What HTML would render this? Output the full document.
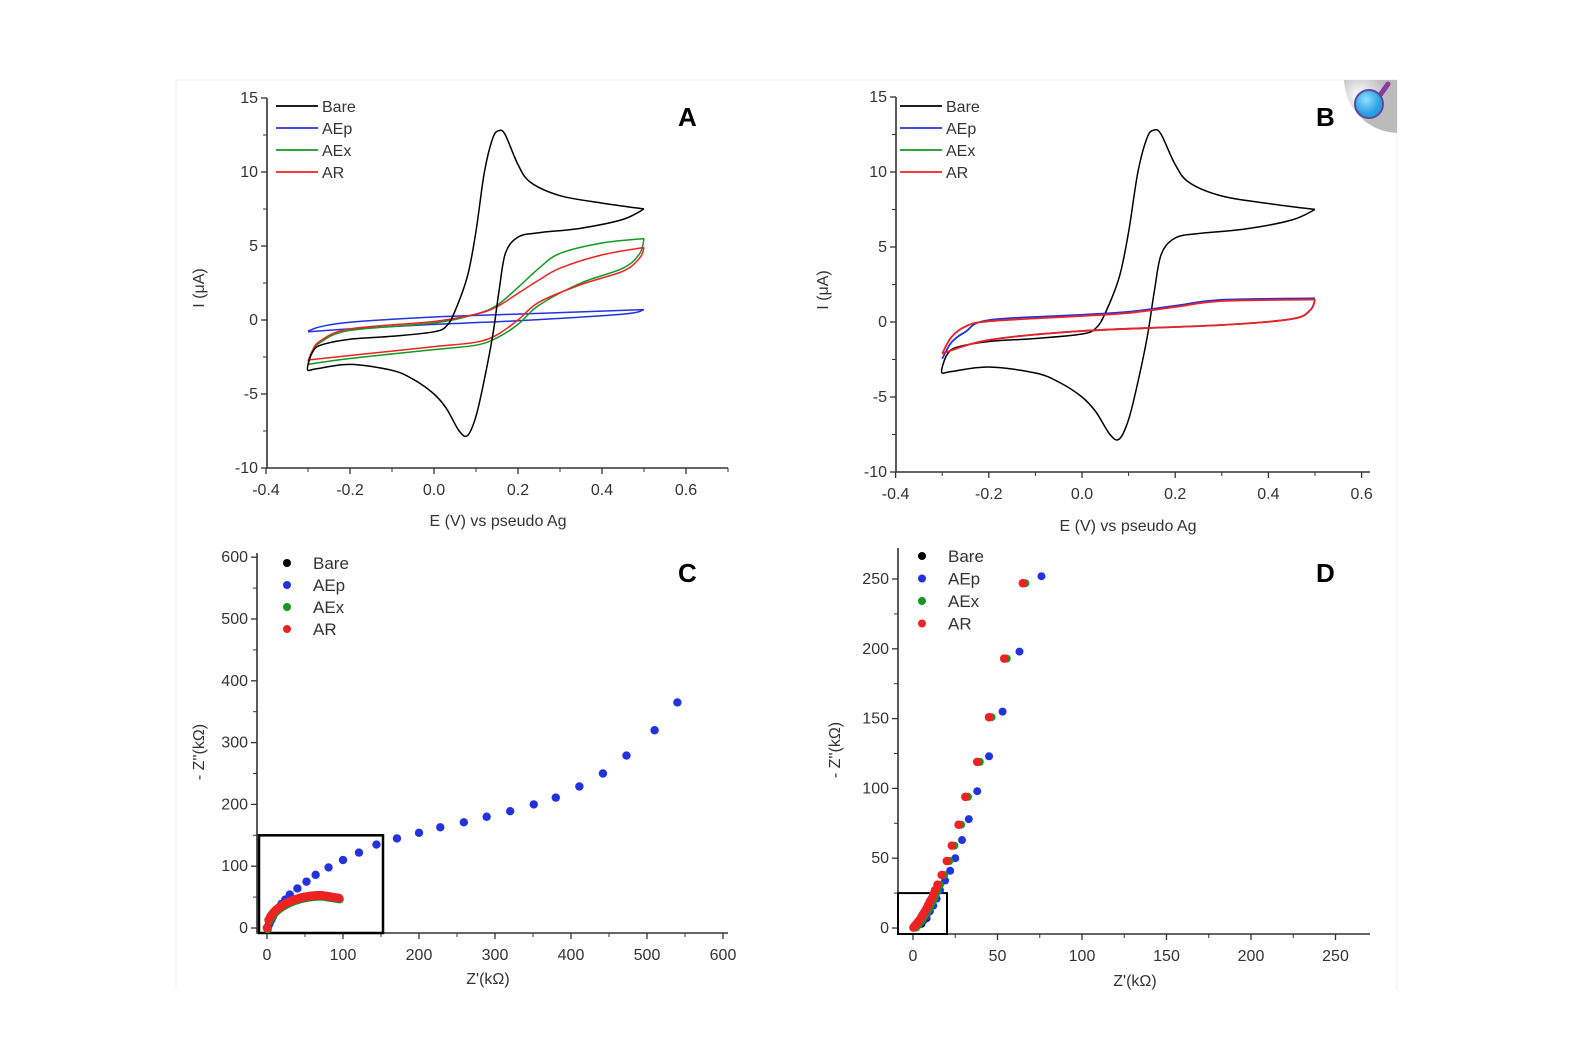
<!DOCTYPE html>
<html><head><meta charset="utf-8"><style>
html,body{margin:0;padding:0;background:#fff;}
svg text{font-family:"Liberation Sans",sans-serif;fill:#333;}
</style></head><body>
<svg id="s" width="1582" height="1055" viewBox="0 0 1582 1055" xmlns="http://www.w3.org/2000/svg">
<rect width="1582" height="1055" fill="#fff"/>
<path d="M176 990 V80 H1397 V990" fill="none" stroke="#eee" stroke-width="1"/>
</svg>
<script>
const S=document.getElementById('s');let H='';
function cr(pts){let d='M'+pts[0][0].toFixed(1)+' '+pts[0][1].toFixed(1);
for(let i=0;i<pts.length-1;i++){const p0=pts[Math.max(i-1,0)],p1=pts[i],p2=pts[i+1],p3=pts[Math.min(i+2,pts.length-1)];
const c1=[p1[0]+(p2[0]-p0[0])/6,p1[1]+(p2[1]-p0[1])/6],c2=[p2[0]-(p3[0]-p1[0])/6,p2[1]-(p3[1]-p1[1])/6];
d+=` C${c1[0].toFixed(1)} ${c1[1].toFixed(1)} ${c2[0].toFixed(1)} ${c2[1].toFixed(1)} ${p2[0].toFixed(1)} ${p2[1].toFixed(1)}`;}return d;}
function axes(o){
 H+=`<path d="M${o.ax} ${o.ytop} V${o.ay} H${o.xend}" fill="none" stroke="#333" stroke-width="1.6"/>`;
 o.xt.forEach(t=>{H+=`<line x1="${t[0]}" y1="${o.ay}" x2="${t[0]}" y2="${o.ay+6}" stroke="#333" stroke-width="1.3"/><text x="${t[0]}" y="${o.ay+27}" font-size="16" text-anchor="middle">${t[1]}</text>`;});
 (o.xm||[]).forEach(x=>{H+=`<line x1="${x}" y1="${o.ay}" x2="${x}" y2="${o.ay+4}" stroke="#333" stroke-width="1"/>`;});
 o.yt.forEach(t=>{H+=`<line x1="${o.ax-6}" y1="${t[0]}" x2="${o.ax}" y2="${t[0]}" stroke="#333" stroke-width="1.3"/><text x="${o.ax-9}" y="${t[0]+5}" font-size="16" text-anchor="end">${t[1]}</text>`;});
 (o.ym||[]).forEach(y=>{H+=`<line x1="${o.ax-4}" y1="${y}" x2="${o.ax}" y2="${y}" stroke="#333" stroke-width="1"/>`;});
}
const bareF=[[-0.3,-3.0],[-0.29,-2.2],[-0.27,-1.7],[-0.2,-1.3],[-0.1,-1.1],[0.0,-0.8],[0.03,-0.4],[0.05,0.6],[0.08,3],[0.1,6],[0.12,10],[0.14,12.3],[0.155,12.8],[0.17,12.5],[0.2,10.5],[0.23,9.3],[0.3,8.4],[0.4,7.9],[0.5,7.5]];
const bareR=[[0.5,7.5],[0.45,6.8],[0.35,6.2],[0.25,5.9],[0.2,5.6],[0.17,4.5],[0.155,2],[0.14,-1],[0.12,-4],[0.1,-6.5],[0.08,-7.8],[0.06,-7.5],[0.03,-6],[0.0,-5],[-0.05,-4],[-0.1,-3.4],[-0.2,-3.0],[-0.28,-3.3],[-0.3,-3.4],[-0.3,-3.0]];
function cv(ox,sx,oy,sy,pts,col,w){H+=`<path d="${cr(pts.map(p=>[ox+sx*p[0],oy-sy*p[1]]))}" fill="none" stroke="${col}" stroke-width="${w||1.5}" stroke-linejoin="round"/>`;}
function loop(ox,sx,oy,sy,f,r,col,w){cv(ox,sx,oy,sy,f,col,w);cv(ox,sx,oy,sy,r,col,w);}
function legL(x,y,col,lab,dy){col.forEach((c,i)=>{H+=`<line x1="${x}" y1="${y+i*dy}" x2="${x+42}" y2="${y+i*dy}" stroke="${c}" stroke-width="1.8"/><text x="${x+46}" y="${y+i*dy+6}" font-size="16">${lab[i]}</text>`;});}
function legP(x,y,col,lab,dy){col.forEach((c,i)=>{H+=`<circle cx="${x}" cy="${y+i*dy}" r="4" fill="${c}"/><text x="${x+26}" y="${y+i*dy+6}" font-size="17">${lab[i]}</text>`;});}
const COL=['#000','#2233dd','#119922','#ee2222'],LAB=['Bare','AEp','AEx','AR'];
// Panel A
{const ox=434,sx=420,oy=320,sy=14.8;
axes({ax:267,ay:468,xend:728,ytop:98,xt:[-0.4,-0.2,0.0,0.2,0.4,0.6].map(v=>[ox+sx*v,v.toFixed(1)]),xm:[-0.3,-0.1,0.1,0.3,0.5,0.7].map(v=>ox+sx*v),yt:[15,10,5,0,-5,-10].map(v=>[oy-sy*v,v]),ym:[12.5,7.5,2.5,-2.5,-7.5].map(v=>oy-sy*v)});
loop(ox,sx,oy,sy,[[-0.3,-0.75],[-0.27,-0.45],[-0.2,-0.15],[0,0.2],[0.2,0.4],[0.5,0.7]],[[0.5,0.7],[0.45,0.4],[0.2,-0.05],[0,-0.3],[-0.2,-0.6],[-0.3,-0.8]],COL[1]);
loop(ox,sx,oy,sy,[[-0.3,-3.0],[-0.29,-2.2],[-0.27,-1.5],[-0.2,-0.7],[0,-0.2],[0.1,0.4],[0.15,1.0],[0.2,2.2],[0.25,3.5],[0.3,4.5],[0.4,5.2],[0.5,5.5]],[[0.5,5.5],[0.49,4.5],[0.45,3.5],[0.35,2.5],[0.25,1.0],[0.2,-0.3],[0.15,-1.2],[0.1,-1.7],[0,-2.0],[-0.2,-2.6],[-0.3,-3.0]],COL[2]);
loop(ox,sx,oy,sy,[[-0.3,-2.8],[-0.29,-2.1],[-0.27,-1.4],[-0.2,-0.6],[0,-0.1],[0.1,0.4],[0.15,0.9],[0.2,1.8],[0.25,2.7],[0.3,3.5],[0.4,4.4],[0.5,4.9]],[[0.5,4.9],[0.49,4.2],[0.45,3.3],[0.35,2.4],[0.25,1.2],[0.2,0.0],[0.15,-1.0],[0.1,-1.5],[0,-1.8],[-0.2,-2.4],[-0.3,-2.7]],COL[3]);
loop(ox,sx,oy,sy,bareF,bareR,COL[0]);
legL(276,106,COL,LAB,22);
H+=`<text x="678" y="126" font-size="26" font-weight="bold" style="fill:#000">A</text>`;
H+=`<text x="498" y="526" font-size="16" text-anchor="middle">E (V) vs pseudo Ag</text>`;
H+=`<text transform="translate(204,288) rotate(-90)" font-size="16" text-anchor="middle">I (μA)</text>`;}
// Panel B
{const ox=1082,sx=466,oy=322,sy=15;
axes({ax:896,ay:472,xend:1370,ytop:97,xt:[-0.4,-0.2,0.0,0.2,0.4,0.6].map(v=>[ox+sx*v,v.toFixed(1)]),xm:[-0.3,-0.1,0.1,0.3,0.5].map(v=>ox+sx*v),yt:[15,10,5,0,-5,-10].map(v=>[oy-sy*v,v]),ym:[12.5,7.5,2.5,-2.5,-7.5].map(v=>oy-sy*v)});
loop(ox,sx,oy,sy,bareF,bareR,COL[0]);
const lf=[[-0.3,-2.1],[-0.28,-1.0],[-0.25,-0.3],[-0.2,0.05],[0,0.4],[0.1,0.6],[0.2,1.0],[0.3,1.4],[0.5,1.5]];
const lr=[[0.5,1.5],[0.49,0.8],[0.45,0.2],[0.3,-0.2],[0,-0.6],[-0.2,-1.2],[-0.3,-2.1]];
loop(ox,sx,oy,sy,lf.map(p=>[p[0],p[0]<-0.2?p[1]-0.35:p[1]+0.08]),lr,COL[1],1.8);
loop(ox,sx,oy,sy,lf,lr,COL[3],1.8);
legL(900,106,COL,LAB,22);
H+=`<text x="1316" y="126" font-size="26" font-weight="bold" style="fill:#000">B</text>`;
H+=`<text x="1128" y="531" font-size="16" text-anchor="middle">E (V) vs pseudo Ag</text>`;
H+=`<text transform="translate(828,290) rotate(-90)" font-size="16" text-anchor="middle">I (μA)</text>`;
H+=`<defs><radialGradient id="g1" cx="0.3" cy="0.3"><stop offset="0" stop-color="#fff"/><stop offset="1" stop-color="#bbb"/></radialGradient><radialGradient id="g2" cx="0.4" cy="0.35"><stop offset="0" stop-color="#8ee0ff"/><stop offset="1" stop-color="#2a9fe0"/></radialGradient></defs>`;
H+=`<path d="M1344 80 H1397 V133 A55 55 0 0 1 1344 80Z" fill="url(#g1)"/><line x1="1378" y1="98" x2="1388" y2="84" stroke="#8a3aa0" stroke-width="5" stroke-linecap="round"/><circle cx="1369" cy="104" r="14" fill="url(#g2)" stroke="#5a4aa0" stroke-width="2"/>`;}
// Panel C
{const ox=267,sx=0.76,oy=928,sy=0.618;
axes({ax:257,ay:933,xend:728,ytop:553,xt:[0,100,200,300,400,500,600].map(v=>[ox+sx*v,v]),xm:[50,150,250,350,450,550].map(v=>ox+sx*v),yt:[600,500,400,300,200,100,0].map(v=>[oy-sy*v,v]),ym:[550,450,350,250,150,50].map(v=>oy-sy*v)});
const blue=[[540,365],[510,320],[473,279],[442,250],[411,229],[380,211],[351,200],[320,189],[289,180],[259,171],[228,163],[200,154],[171,145],[144,135],[121,122],[100,110],[81,98],[64,86],[52,75],[40,64],[30,54],[24,46],[19,39],[15,32],[11,25],[8,19],[6,14],[4,9],[2.5,5],[1,2]];
H+=`<rect x="259" y="${oy-sy*150}" width="124" height="${933-(oy-sy*150)}" fill="none" stroke="#000" stroke-width="2.5"/>`;
blue.forEach(p=>{H+=`<circle cx="${ox+sx*p[0]}" cy="${oy-sy*p[1]}" r="4.2" fill="${COL[1]}"/>`;});
const arc=x=>x<=72?53*Math.sqrt(Math.max(0,1-((x-72)/72)**2)):53-(x-72)*0.2;
for(let x=0;x<=96;x+=2.2){H+=`<circle cx="${ox+sx*(x+1)}" cy="${oy-sy*(arc(x)-2)}" r="4.2" fill="${COL[2]}"/>`;}
for(let x=0;x<=96;x+=2.2){H+=`<circle cx="${ox+sx*x}" cy="${oy-sy*arc(x)}" r="4.4" fill="${COL[3]}"/>`;}
legP(287,563,COL,LAB,22);
H+=`<text x="678" y="582" font-size="26" font-weight="bold" style="fill:#000">C</text>`;
H+=`<text x="488" y="984" font-size="16" text-anchor="middle">Z'(kΩ)</text>`;
H+=`<text transform="translate(204,752) rotate(-90)" font-size="16" text-anchor="middle">- Z''(kΩ)</text>`;}
// Panel D
{const ox=913,sx=1.69,oy=928,sy=1.396;
axes({ax:898,ay:934,xend:1370,ytop:548,xt:[0,50,100,150,200,250].map(v=>[ox+sx*v,v]),xm:[25,75,125,175,225].map(v=>ox+sx*v),yt:[250,200,150,100,50,0].map(v=>[oy-sy*v,v]),ym:[225,175,125,75,25].map(v=>oy-sy*v)});
H+=`<rect x="898" y="${oy-sy*25}" width="49" height="${934-(oy-sy*25)}" fill="none" stroke="#000" stroke-width="2"/>`;
[[8,7],[6,5],[5,3],[3,2],[2,1]].forEach(p=>{H+=`<circle cx="${ox+sx*p[0]}" cy="${oy-sy*p[1]}" r="4" fill="#000"/>`;});
const blue=[[76,252],[63,198],[53,155],[45,123],[38,98],[33,78],[29,63],[25,50],[22,41],[19,34],[16,27],[14,21],[12,16],[10,12],[8,8],[6,5],[4,3],[2,1]];
blue.forEach(p=>{H+=`<circle cx="${ox+sx*p[0]}" cy="${oy-sy*p[1]}" r="4" fill="${COL[1]}"/>`;});
const red=[[65,247],[54,193],[45,151],[38,119],[31,94],[27,74],[23,59],[20,48],[17,38],[14.5,31],[13,27],[12,24],[11,21],[10,19],[9,16.5],[8,14],[7,12],[6,10],[5,8],[4,6],[3,4.5],[2,3],[1,1.5],[0.3,0.3]];
red.forEach(p=>{H+=`<circle cx="${ox+sx*(p[0]+1.5)}" cy="${oy-sy*p[1]}" r="4" fill="${COL[2]}"/>`;});
red.forEach(p=>{H+=`<circle cx="${ox+sx*p[0]}" cy="${oy-sy*p[1]}" r="4.3" fill="${COL[3]}"/>`;});
legP(922,556,COL,LAB,22.5);
H+=`<text x="1316" y="582" font-size="26" font-weight="bold" style="fill:#000">D</text>`;
H+=`<text x="1135" y="986" font-size="16" text-anchor="middle">Z'(kΩ)</text>`;
H+=`<text transform="translate(840,750) rotate(-90)" font-size="16" text-anchor="middle">- Z''(kΩ)</text>`;}
S.insertAdjacentHTML('beforeend',H);
</script>
</body></html>
